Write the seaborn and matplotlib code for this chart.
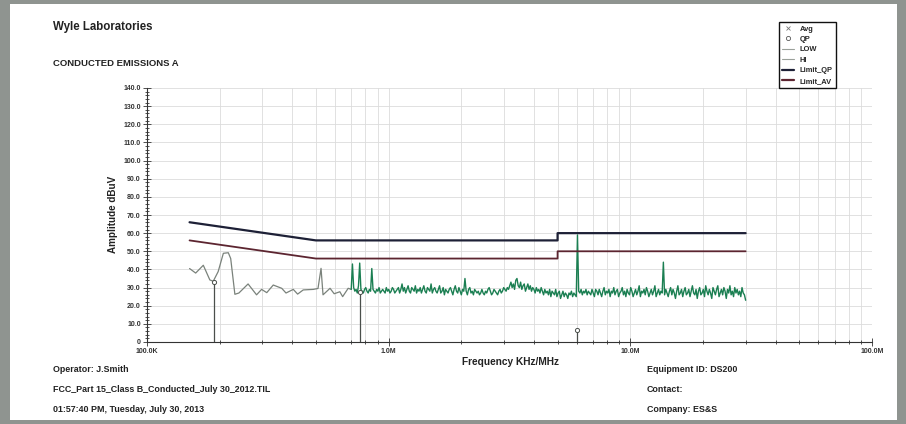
"""
plot.py - Conducted emissions scan (FCC Part 15 Class B) redrawn with seaborn.
"""

import numpy as np
import pandas as pd
import seaborn as sns
import matplotlib.pyplot as plt
from matplotlib.lines import Line2D
from matplotlib.patches import Rectangle
from matplotlib.ticker import FixedLocator, FuncFormatter, MultipleLocator

#####################################
# Data
#####################################

# LOW trace (gray), frequency in kHz
low_freq_khz = [150, 159, 171, 182, 188, 197, 207, 217, 222, 231, 240, 262, 284,
                298, 313, 333, 361, 376, 403, 420, 443, 488, 510, 525, 535, 572,
                595, 628, 645, 680, 700]
low_dbuv = [40.5, 38, 42.3, 34.2, 33.5, 38.8, 48.9, 49.2, 46, 26.3, 27, 32, 26,
            29, 27.2, 31.4, 29.6, 27, 29, 26.4, 28.7, 29, 29.5, 40.6, 26, 29.6,
            26.6, 27.7, 25, 29.6, 29]

# HI trace (green), swept 0.70 MHz .. 30 MHz
hi_start_mhz = 0.70
hi_stop_mhz = 30.0
hi_dbuv = [
    29, 43, 30, 28, 29, 27, 31, 43.5, 29, 28, 27, 29, 30, 28, 27, 29, 28, 40.5, 29, 28,
    27, 29, 28, 30, 27, 28, 29, 28, 27, 30, 28, 29, 27, 28, 30, 29, 27, 28, 29, 30,
    27, 29, 32, 28, 30, 27, 29, 31, 28, 27, 30, 29, 28, 31, 27, 29, 28, 30, 27, 29,
    31, 28, 27, 30, 29, 28, 32, 27, 29, 30, 28, 27, 29, 31, 27, 28, 30, 26, 29, 28,
    27, 29, 30, 28, 26, 29, 31, 28, 27, 30, 28, 26, 29, 28, 35, 28, 26, 29, 30, 27,
    28, 26, 29, 28, 27, 28, 26, 27, 29, 27, 26, 28, 27, 29, 30, 28, 26, 27, 29, 28,
    27, 26, 28, 29, 27, 28, 30, 29, 28, 30, 29, 31, 33, 30, 32, 29, 34, 35, 31, 30,
    33, 29, 31, 32, 28, 30, 32, 29, 31, 28, 30, 29, 27, 30, 28, 29, 27, 30, 28, 26,
    29, 27, 28, 26, 29, 25, 28, 27, 26, 29, 25, 27, 28, 24, 26, 28, 25, 27, 26, 24,
    27, 26, 28, 25, 27, 26, 25, 59, 28, 27, 29, 26, 28, 27, 29, 26, 28, 27, 26, 29,
    27, 25, 29, 28, 26, 29, 27, 25, 28, 30, 26, 28, 27, 29, 25, 28, 27, 30, 26, 28,
    29, 25, 27, 28, 30, 26, 28, 25, 29, 27, 26, 30, 28, 25, 27, 29, 26, 28, 31, 25,
    28, 27, 29, 26, 30, 28, 25, 27, 29, 26, 28, 31, 25, 27, 29, 26, 28, 27, 44, 26,
    29, 27, 25, 28, 30, 26, 29, 27, 24, 28, 31, 26, 27, 29, 25, 28, 30, 26, 27, 29,
    25, 28, 31, 27, 26, 29, 24, 28, 30, 26, 27, 29, 25, 31, 28, 26, 29, 27, 24, 30,
    28, 26, 29, 31, 25, 27, 29, 26, 30, 28, 24, 29, 27, 31, 26, 28, 25, 30, 27, 29,
    26, 28, 25, 30, 27, 26, 23,
]

# Quasi-peak readings
qp_freq_khz = [190, 760, 6000]
qp_dbuv = [33, 27.7, 6.5]

# FCC Class B limits
limit_freq_mhz = [0.15, 0.5, 5.0, 5.0, 30.0]
limit_qp = [66, 56, 56, 60, 60]
limit_av = [56, 46, 46, 50, 50]

y_ticks = list(range(0, 141, 10))
x_decades = [1e5, 1e6, 1e7, 1e8]
x_decade_labels = ["100.0K", "1.0M", "10.0M", "100.0M"]

#####################################
# Build the figure
#####################################

sns.set_style("white")
plt.rcParams["font.family"] = ["Liberation Sans", "DejaVu Sans"]
plt.rcParams["font.weight"] = "bold"

fig = plt.figure(figsize=(9.06, 4.24), dpi=100)
fig.patch.set_facecolor("#8f9490")
fig.patches.append(Rectangle((10 / 906, 4 / 424), 887 / 906, 416 / 424,
                             transform=fig.transFigure, facecolor="white",
                             edgecolor="none", zorder=-5))

ax = fig.add_axes([147 / 906, 82 / 424, 725 / 906, 254 / 424])
ax.set_zorder(2)
ax.patch.set_alpha(0)

low = pd.DataFrame({"freq": np.array(low_freq_khz) * 1e3, "dbuv": low_dbuv})
hi = pd.DataFrame({"freq": np.geomspace(hi_start_mhz, hi_stop_mhz, len(hi_dbuv)) * 1e6,
                   "dbuv": hi_dbuv})
lim = pd.DataFrame({"freq": np.array(limit_freq_mhz) * 1e6,
                    "qp": limit_qp, "av": limit_av})

sns.lineplot(data=lim, x="freq", y="qp", ax=ax, color="#1d2036", lw=1.6,
             estimator=None, sort=False, zorder=4)
sns.lineplot(data=lim, x="freq", y="av", ax=ax, color="#5c2530", lw=1.3,
             estimator=None, sort=False, zorder=4)
sns.lineplot(data=low, x="freq", y="dbuv", ax=ax, color="#7a827b", lw=0.9,
             estimator=None, sort=False, zorder=3)
sns.lineplot(data=hi, x="freq", y="dbuv", ax=ax, color="#1b7f52", lw=1.0,
             estimator=None, sort=False, zorder=3)

qp_f = np.array(qp_freq_khz) * 1e3
ax.vlines(qp_f, 0, qp_dbuv, color="#4a4f4b", lw=0.9, zorder=5)
sns.scatterplot(x=qp_f, y=qp_dbuv, ax=ax, marker="o", s=9, facecolor="white",
                edgecolor="#4a4f4b", linewidth=0.7, zorder=6)

ax.set_xscale("log")
ax.set_xlim(1e5, 1e8)
ax.set_ylim(0, 140)
ax.set_xlabel("")
ax.set_ylabel("")

ax.yaxis.set_major_locator(FixedLocator(y_ticks))
ax.yaxis.set_major_formatter(FuncFormatter(lambda v, p: "0" if v == 0 else f"{v:.1f}"))
ax.yaxis.set_minor_locator(MultipleLocator(2))
ax.xaxis.set_major_locator(FixedLocator(x_decades))
ax.xaxis.set_major_formatter(FuncFormatter(
    lambda v, p: x_decade_labels[x_decades.index(v)] if v in x_decades else ""))

ax.tick_params(axis="both", which="both", direction="inout", colors="#333333",
               labelsize=5, width=0.6, bottom=True, left=True)
ax.tick_params(axis="both", which="major", length=6, pad=1.5)
ax.tick_params(axis="both", which="minor", length=3.5)

ax.grid(True, which="both", axis="x", color="#dcdcdc", lw=0.6)
ax.grid(True, which="major", axis="y", color="#dcdcdc", lw=0.6)
for side in ["top", "right"]:
    ax.spines[side].set_visible(False)
for side in ["left", "bottom"]:
    ax.spines[side].set_color("#333333")
    ax.spines[side].set_linewidth(0.8)

# legend box at the upper right
handles = [
    Line2D([], [], ls="none", marker="x", color="#777777", ms=3.5, mew=0.6),
    Line2D([], [], ls="none", marker="o", mfc="white", mec="#555555", ms=3, mew=0.6),
    Line2D([], [], color="#9aa09a", lw=0.8),
    Line2D([], [], color="#9aa09a", lw=0.8),
    Line2D([], [], color="#1d2036", lw=1.6),
    Line2D([], [], color="#5c2530", lw=1.6),
]
labels = ["Avg", "QP", "LOW", "HI", "Limit_QP", "Limit_AV"]
leg = fig.legend(handles, labels, loc="upper left",
                 bbox_to_anchor=(779 / 906, 1 - 22 / 424), fontsize=5.4,
                 frameon=True, fancybox=False, framealpha=1, edgecolor="#111111",
                 handlelength=1.5, handletextpad=0.8, labelspacing=0.42,
                 borderpad=0.45, borderaxespad=0)
leg.get_frame().set_linewidth(1.0)
leg.set_zorder(10)

# header, axis titles and footer
fig.text(53 / 906, 1 - 27 / 424, "Wyle Laboratories", fontsize=8.3,
         weight="bold", va="center", color="#222222")
fig.text(53 / 906, 1 - 63 / 424, "CONDUCTED EMISSIONS A", fontsize=6.8,
         weight="bold", va="center", color="#222222")
fig.text(511 / 906, 1 - 362 / 424, "Frequency KHz/MHz", fontsize=7.3,
         weight="bold", ha="center", va="center", color="#222222")
fig.text(113 / 906, 1 - 214 / 424, "Amplitude dBuV", fontsize=7.1,
         weight="bold", rotation=90, ha="center", va="center", color="#222222")

left_footer = ["Operator: J.Smith",
               "FCC_Part 15_Class B_Conducted_July 30_2012.TIL",
               "01:57:40 PM, Tuesday, July 30, 2013"]
right_footer = ["Equipment ID: DS200", "Contact:", "Company: ES&S"]
footer_y = [370, 390, 410]
for txt, yy in zip(left_footer, footer_y):
    fig.text(53 / 906, 1 - yy / 424, txt, fontsize=6.4, weight="bold",
             va="center", color="#222222")
for txt, yy in zip(right_footer, footer_y):
    fig.text(647 / 906, 1 - yy / 424, txt, fontsize=6.4, weight="bold",
             va="center", color="#222222")

fig.savefig("out.png", dpi=100, facecolor=fig.get_facecolor())
